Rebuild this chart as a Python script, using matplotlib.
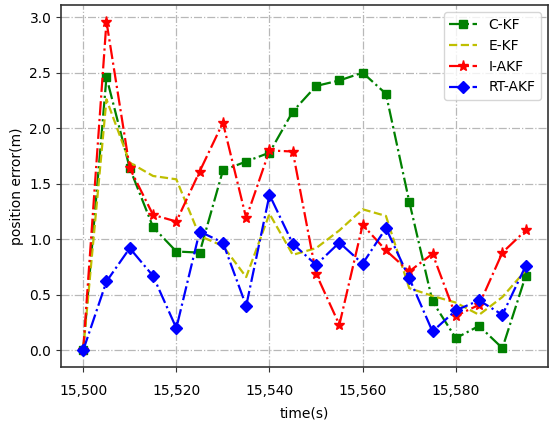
import matplotlib
matplotlib.use("Agg")
import matplotlib.pyplot as plt
import matplotlib.ticker as mticker

# time stamps (s)
time_s = [15500, 15505, 15510, 15515, 15520, 15525, 15530, 15535, 15540, 15545,
          15550, 15555, 15560, 15565, 15570, 15575, 15580, 15585, 15590, 15595]

# position error (m) per filter
c_kf = [0.0, 2.46, 1.64, 1.11, 0.89, 0.88, 1.62, 1.70, 1.78, 2.15,
        2.38, 2.43, 2.50, 2.31, 1.34, 0.44, 0.11, 0.22, 0.02, 0.67]
e_kf = [0.0, 2.26, 1.69, 1.57, 1.54, 1.03, 0.94, 0.66, 1.23, 0.86,
        0.92, 1.08, 1.27, 1.21, 0.56, 0.49, 0.43, 0.32, 0.48, 0.72]
i_akf = [0.0, 2.96, 1.64, 1.22, 1.16, 1.61, 2.05, 1.19, 1.80, 1.79,
         0.69, 0.23, 1.13, 0.90, 0.71, 0.87, 0.31, 0.41, 0.88, 1.08]
rt_akf = [0.0, 0.62, 0.92, 0.67, 0.20, 1.07, 0.97, 0.40, 1.40, 0.96,
          0.77, 0.97, 0.78, 1.10, 0.65, 0.17, 0.36, 0.45, 0.32, 0.76]

fig = plt.figure(figsize=(5.5, 4.28), dpi=100)
ax = fig.add_axes([0.111, 0.143, 0.885, 0.845])

ax.plot(time_s, c_kf, color="g", linestyle="-.", marker="s", markersize=6,
        linewidth=1.6, label="C-KF")
ax.plot(time_s, e_kf, color="y", linestyle="--", linewidth=1.6, label="E-KF")
ax.plot(time_s, i_akf, color="r", linestyle="-.", marker="*", markersize=8,
        linewidth=1.6, label="I-AKF")
ax.plot(time_s, rt_akf, color="b", linestyle="-.", marker="D", markersize=6,
        linewidth=1.6, label="RT-AKF")

ax.set_xticks([15500, 15520, 15540, 15560, 15580])
ax.xaxis.set_major_formatter(mticker.StrMethodFormatter("{x:,.0f}"))
ax.set_yticks([0.0, 0.5, 1.0, 1.5, 2.0, 2.5, 3.0])
ax.yaxis.set_major_formatter(mticker.FormatStrFormatter("%.1f"))
ax.tick_params(labelsize=10, color="#333333")
ax.tick_params(axis="x", pad=9)

for spine in ax.spines.values():
    spine.set_color("#333333")
    spine.set_linewidth(1.2)

ax.grid(True, linestyle="-.", color="#b8b8b8", linewidth=0.9)
ax.set_xlabel("time(s)", fontsize=10, labelpad=6)
ax.set_ylabel("position error(m)", fontsize=10)
ax.legend(loc="upper right", fontsize=10)

fig.savefig("out.png", dpi=100)
